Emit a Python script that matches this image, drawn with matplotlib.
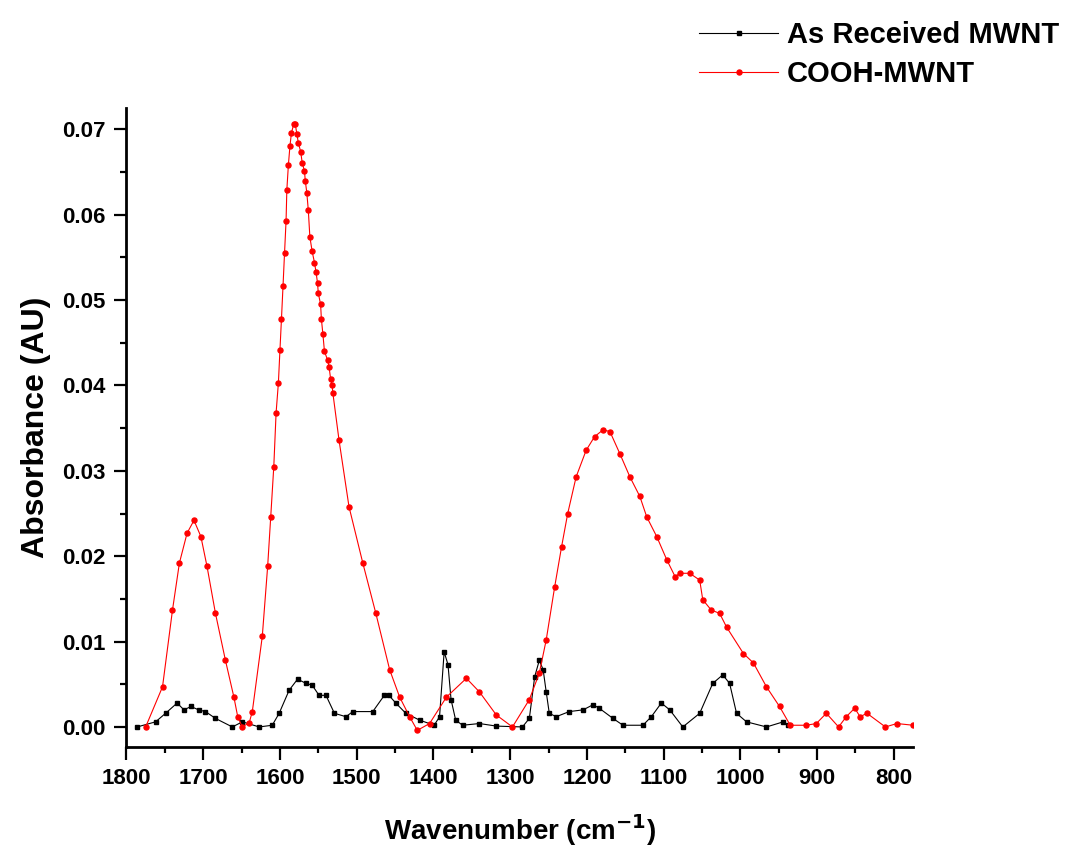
import numpy as np
import matplotlib
matplotlib.use('Agg')
import matplotlib.pyplot as plt
from matplotlib.ticker import MultipleLocator, FormatStrFormatter

plt.rcParams.update({
    'font.family': ['Liberation Sans', 'DejaVu Sans'],
    'font.weight': 'bold',
    'mathtext.default': 'regular',
})

# ─── data ────────────────────────────────────────────────────────────────────
wn_asrec = [1786, 1762, 1749, 1734, 1725, 1716, 1706, 1697, 1684, 1662, 1649,
            1627, 1610, 1601, 1588, 1577, 1566, 1558, 1549, 1540, 1529, 1514,
            1505, 1479, 1464, 1458, 1449, 1436, 1418, 1399, 1392, 1386, 1381,
            1377, 1371, 1362, 1340, 1318, 1284, 1275, 1268, 1262, 1257, 1253,
            1249, 1240, 1223, 1205, 1192, 1184, 1166, 1153, 1127, 1116, 1103,
            1092, 1075, 1053, 1036, 1023, 1014, 1005, 992, 966, 944, 938]
ab_asrec = [0.0000, 0.0006, 0.0016, 0.0028, 0.0020, 0.0024, 0.0020, 0.0018,
            0.0010, 0.0000, 0.0006, 0.0000, 0.0002, 0.0016, 0.0043, 0.0056,
            0.0051, 0.0049, 0.0037, 0.0037, 0.0016, 0.0012, 0.0018, 0.0018,
            0.0037, 0.0037, 0.0028, 0.0016, 0.0008, 0.0002, 0.0012, 0.0088,
            0.0073, 0.0032, 0.0008, 0.0002, 0.0004, 0.0001, 0.0000, 0.0010,
            0.0059, 0.0078, 0.0067, 0.0041, 0.0016, 0.0012, 0.0018, 0.0020,
            0.0026, 0.0022, 0.0010, 0.0002, 0.0002, 0.0012, 0.0028, 0.0020,
            0.0000, 0.0016, 0.0051, 0.0061, 0.0051, 0.0016, 0.0006, 0.0000,
            0.0006, 0.0002]

wn_cooh = [1775, 1753, 1740, 1731, 1721, 1712, 1703, 1695, 1684, 1671, 1660,
           1655, 1649, 1640, 1636, 1623, 1616, 1612, 1608, 1605, 1602, 1600,
           1598, 1596, 1594, 1592, 1591, 1589, 1587, 1585, 1582, 1580, 1578,
           1576, 1573, 1571, 1568, 1567, 1565, 1563, 1561, 1558, 1555, 1553,
           1551, 1550, 1547, 1546, 1544, 1542, 1538, 1536, 1534, 1532, 1531,
           1523, 1510, 1492, 1475, 1457, 1444, 1431, 1421, 1405, 1383, 1357,
           1340, 1318, 1297, 1275, 1262, 1253, 1242, 1233, 1225, 1214, 1201,
           1190, 1179, 1170, 1157, 1144, 1131, 1122, 1109, 1096, 1085, 1079,
           1066, 1053, 1049, 1038, 1027, 1018, 996, 983, 966, 949, 935, 914,
           901, 888, 872, 862, 851, 844, 835, 811, 796, 775]
ab_cooh = [0.0000, 0.0047, 0.0137, 0.0192, 0.0227, 0.0242, 0.0223, 0.0188,
           0.0133, 0.0078, 0.0035, 0.0012, 0.0000, 0.0005, 0.0018, 0.0106,
           0.0188, 0.0246, 0.0305, 0.0368, 0.0403, 0.0441, 0.0478, 0.0516,
           0.0555, 0.0593, 0.0629, 0.0658, 0.0680, 0.0696, 0.0706, 0.0706,
           0.0695, 0.0684, 0.0674, 0.0661, 0.0651, 0.0640, 0.0626, 0.0605,
           0.0574, 0.0557, 0.0544, 0.0533, 0.0520, 0.0508, 0.0495, 0.0478,
           0.0460, 0.0440, 0.0430, 0.0422, 0.0408, 0.0400, 0.0391, 0.0336,
           0.0258, 0.0192, 0.0133, 0.0067, 0.0035, 0.0012, -0.0004, 0.0004,
           0.0035, 0.0057, 0.0041, 0.0014, 0.0000, 0.0032, 0.0063, 0.0102,
           0.0164, 0.0211, 0.0250, 0.0293, 0.0324, 0.0340, 0.0348, 0.0346,
           0.0320, 0.0293, 0.0270, 0.0246, 0.0223, 0.0196, 0.0176, 0.0180,
           0.0180, 0.0172, 0.0149, 0.0137, 0.0133, 0.0117, 0.0086, 0.0075,
           0.0047, 0.0024, 0.0002, 0.0002, 0.0004, 0.0016, 0.0000, 0.0012,
           0.0022, 0.0012, 0.0016, 0.0000, 0.0004, 0.0002]

# ─── figure ──────────────────────────────────────────────────────────────────
fig = plt.figure(figsize=(10.68, 8.55), dpi=100)
ax = fig.add_axes([0.1184, 0.126, 0.7365, 0.7473])

ax.plot(wn_asrec, ab_asrec, color='black', lw=0.8, marker='s', ms=3.2,
        label='As Received MWNT')
ax.plot(wn_cooh, ab_cooh, color='red', lw=0.8, marker='o', ms=3.6,
        label='COOH-MWNT')

ax.set_xlim(1800, 775)
ax.set_ylim(-0.00238, 0.07246)

ax.xaxis.set_major_locator(MultipleLocator(100))
ax.xaxis.set_minor_locator(MultipleLocator(50))
ax.yaxis.set_major_locator(MultipleLocator(0.01))
ax.yaxis.set_minor_locator(MultipleLocator(0.005))
ax.yaxis.set_major_formatter(FormatStrFormatter('%.2f'))

for side in ['top', 'right']:
    ax.spines[side].set_visible(False)
for side in ['left', 'bottom']:
    ax.spines[side].set_linewidth(2.0)

ax.tick_params(which='major', direction='out', length=9, width=1.6,
               labelsize=16, pad=6)
ax.tick_params(which='minor', direction='out', length=4.5, width=1.6)
for lbl in ax.get_xticklabels() + ax.get_yticklabels():
    lbl.set_fontweight('bold')

ax.set_xlabel('Wavenumber (cm$^{\\mathbf{-1}}$)', fontsize=20,
              fontweight='bold', labelpad=17)
ax.set_ylabel('Absorbance (AU)', fontsize=23, fontweight='bold', labelpad=8)

fig.legend(loc='upper right', bbox_to_anchor=(1.008, 0.996), frameon=False,
           handlelength=2.7, handletextpad=0.3,
           labelspacing=0.39, borderaxespad=0.2,
           prop={'weight': 'bold', 'size': 21})

fig.savefig('out.png', dpi=100)
